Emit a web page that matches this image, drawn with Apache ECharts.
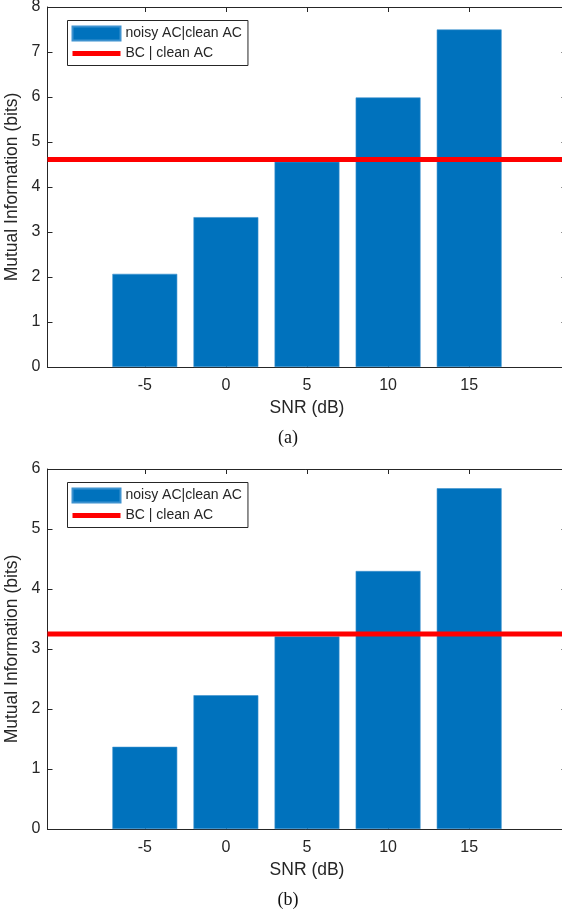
<!DOCTYPE html>
<html>
<head>
<meta charset="utf-8">
<script src="https://cdn.jsdelivr.net/npm/echarts@6/dist/echarts.min.js"></script>
<style>
  html, body { margin: 0; padding: 0; background: #fff; }
  #chart { width: 562px; height: 922px; }
</style>
</head>
<body>
<div id="chart"></div>
<script>
// SNR values (dB) on the x axis
const snr = [-5, 0, 5, 10, 15];
const xLimits = [-11, 21];

// (a) mutual information, bits
const noisyA = [2.07, 3.33, 4.56, 5.99, 7.5];
const bcA = 4.61;
const yMaxA = 8;

// (b) mutual information, bits
const noisyB = [1.37, 2.23, 3.21, 4.30, 5.68];
const bcB = 3.25;
const yMaxB = 6;

const seriesNames = ['noisy AC|clean AC', 'BC | clean AC'];
const captions = ['(a)', '(b)'];

const ink = '#262626';
const font = '"Liberation Sans", Arial, sans-serif';
const plotLeft = 47.5, plotRight = 566.5, plotH = 360;
const plotTops = [7, 469];
// bar is 4 units wide on the x scale
const barPx = (plotRight - plotLeft) * 4 / (xLimits[1] - xLimits[0]);

const chart = echarts.init(document.getElementById('chart'));

const grids = [], xAxes = [], yAxes = [], series = [], legends = [], graphics = [];

function addPanel(i, values, bc, yMax) {
    grids.push({
        left: plotLeft, right: 562 - plotRight, top: plotTops[i], height: plotH,
        containLabel: false, outerBoundsMode: 'none'
    });

    // bottom x axis with labels
    xAxes.push({
        type: 'value', gridIndex: i, position: 'bottom',
        min: xLimits[0], max: xLimits[1],
        name: 'SNR (dB)', nameLocation: 'middle', nameGap: 32,
        nameTextStyle: { fontFamily: font, fontSize: 17.5, color: ink },
        axisLine: { show: true, onZero: false, lineStyle: { color: ink, width: 1 } },
        axisTick: { show: true, inside: true, length: 5, customValues: snr, lineStyle: { color: ink } },
        axisLabel: { customValues: snr, fontFamily: font, fontSize: 16, color: ink, margin: 11 },
        splitLine: { show: false }
    });
    // top mirror axis (box)
    xAxes.push({
        type: 'value', gridIndex: i, position: 'top',
        min: xLimits[0], max: xLimits[1],
        axisLine: { show: true, onZero: false, lineStyle: { color: ink, width: 1 } },
        axisTick: { show: true, inside: true, length: 5, customValues: snr, lineStyle: { color: ink } },
        axisLabel: { show: false },
        splitLine: { show: false }
    });

    yAxes.push({
        type: 'value', gridIndex: i, position: 'left',
        min: 0, max: yMax, interval: 1,
        name: 'Mutual Information (bits)', nameLocation: 'middle', nameGap: 25,
        nameTextStyle: { fontFamily: font, fontSize: 17.5, color: ink },
        axisLine: { show: true, onZero: false, lineStyle: { color: ink, width: 1 } },
        axisTick: { show: true, inside: true, length: 5, lineStyle: { color: ink } },
        axisLabel: { fontFamily: font, fontSize: 16, color: ink, margin: 7 },
        splitLine: { show: false }
    });
    yAxes.push({
        type: 'value', gridIndex: i, position: 'right',
        min: 0, max: yMax, interval: 1,
        axisLine: { show: true, onZero: false, lineStyle: { color: ink, width: 1 } },
        axisTick: { show: true, inside: true, length: 5, lineStyle: { color: ink } },
        axisLabel: { show: false },
        splitLine: { show: false }
    });

    series.push({
        name: seriesNames[0], type: 'bar',
        xAxisIndex: 2 * i, yAxisIndex: 2 * i,
        barWidth: barPx,
        itemStyle: { color: '#0072BD', borderColor: '#3d92cf', borderWidth: 0.6 },
        data: snr.map((x, k) => [x, values[k]]),
        z: 2
    });
    series.push({
        name: seriesNames[1], type: 'line',
        xAxisIndex: 2 * i, yAxisIndex: 2 * i,
        symbol: 'none',
        lineStyle: { color: '#ff0000', width: 5 },
        itemStyle: { color: '#ff0000' },
        data: [[xLimits[0], bc], [xLimits[1], bc]],
        z: 3
    });

    legends.push({
        orient: 'vertical',
        left: 67.5, top: plotTops[i] + 13.5,
        padding: [5, 6, 5, 4],
        itemWidth: 48, itemHeight: 14, itemGap: 5,
        borderColor: ink, borderWidth: 1, backgroundColor: '#fff',
        textStyle: { fontFamily: font, fontSize: 14, color: ink },
        data: [
            { name: seriesNames[0], icon: 'rect' },
            { name: seriesNames[1], icon: 'path://M0 0H48V5H0Z' }
        ]
    });

    graphics.push({
        type: 'text',
        x: 288, y: plotTops[i] + plotH + 71,
        style: {
            text: captions[i],
            font: '18px "Liberation Serif", "Times New Roman", serif',
            fill: '#111',
            align: 'center', verticalAlign: 'middle'
        }
    });
}

addPanel(0, noisyA, bcA, yMaxA);
addPanel(1, noisyB, bcB, yMaxB);

chart.setOption({
    animation: false,
    grid: grids,
    xAxis: xAxes,
    yAxis: yAxes,
    legend: legends,
    series: series,
    graphic: graphics
});
</script>
</body>
</html>
